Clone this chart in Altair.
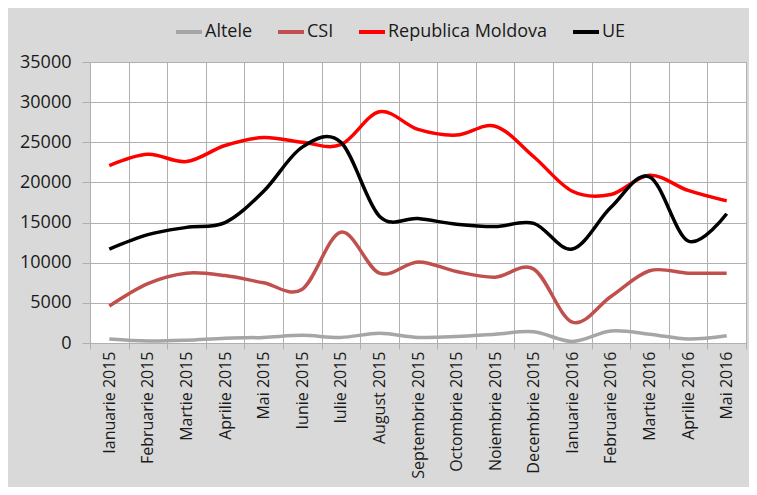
import altair as alt
import pandas as pd

months = ["Ianuarie 2015", "Februarie 2015", "Martie 2015", "Aprilie 2015", "Mai 2015",
          "Iunie 2015", "Iulie 2015", "August 2015", "Septembrie 2015", "Octombrie 2015",
          "Noiembrie 2015", "Decembrie 2015", "Ianuarie 2016", "Februarie 2016",
          "Martie 2016", "Aprilie 2016", "Mai 2016"]
series_names = ["Altele", "CSI", "Republica Moldova", "UE"]
altele = [500, 250, 350, 600, 700, 950, 700, 1200, 700, 800, 1100, 1400, 200, 1500, 1100, 500, 900]
csi = [4600, 7400, 8700, 8400, 7500, 6700, 13800, 8700, 10100, 8900, 8200, 9200, 2600, 5800, 9000, 8700, 8700]
rm = [22100, 23500, 22600, 24600, 25600, 25000, 24700, 28800, 26600, 25900, 27000, 23200, 18900, 18500, 20900, 19000, 17700]
ue = [11700, 13500, 14400, 15000, 18900, 24400, 25000, 15800, 15500, 14800, 14500, 14900, 11700, 16900, 20700, 12700, 16100]
colors = ["#A6A6A6", "#C0504D", "#FF0000", "#000000"]
y_ticks = [0, 5000, 10000, 15000, 20000, 25000, 30000, 35000]

rows = []
for name, vals in zip(series_names, [altele, csi, rm, ue]):
    for i, v in enumerate(vals):
        rows.append({"idx": i, "luna": months[i], "serie": name, "valoare": v})
df = pd.DataFrame(rows)

label_array = "[" + ",".join("'" + m + "'" for m in months) + "]"
idx_values = list(range(len(months)))
boundaries = [i - 0.5 for i in range(len(months) + 1)]

FONT = "Open Sans"
TXT = "#1a1a1a"
GRID = "#B0B0B0"

xscale = alt.Scale(domain=[-0.5, len(months) - 0.5], nice=False, zero=False)

lines = alt.Chart(df).mark_line(interpolate="cardinal", strokeWidth=3.5).encode(
    x=alt.X("idx:Q", scale=xscale,
            axis=alt.Axis(orient="bottom", values=idx_values,
                          labelExpr=label_array + "[datum.value]",
                          labelAngle=270, labelAlign="right", labelBaseline="middle",
                          labelPadding=8, labelFontSize=16, labelFont=FONT, labelColor=TXT,
                          ticks=False, grid=False, domain=False, title=None,
                          labelOverlap=False)),
    y=alt.Y("valoare:Q", scale=alt.Scale(domain=[0, 35000], nice=False),
            axis=alt.Axis(values=y_ticks, format="d", title=None, labelFontSize=18,
                          labelFont=FONT, labelColor=TXT, tickSize=8, tickColor=GRID,
                          gridColor=GRID, domainColor=GRID, labelPadding=11)),
    color=alt.Color("serie:N", scale=alt.Scale(domain=series_names, range=colors),
                    legend=alt.Legend(orient="none", legendX=84, legendY=-45,
                                      direction="horizontal", title=None,
                                      symbolType="stroke", symbolSize=676,
                                      symbolStrokeWidth=4, labelFontSize=18,
                                      labelFont=FONT, labelColor=TXT, labelOffset=1,
                                      columnPadding=17)),
)

bdf = pd.DataFrame({"b": boundaries})
grid_layer = alt.Chart(bdf).mark_point(opacity=0).encode(
    x=alt.X("b:Q", scale=xscale,
            axis=alt.Axis(orient="bottom", values=boundaries, labels=False, ticks=True,
                          tickSize=6, tickColor=GRID, grid=True, gridColor=GRID,
                          domain=True, domainColor=GRID, title=None)),
)

chart = alt.layer(grid_layer, lines).resolve_axis(x="independent").properties(
    width=656, height=281,
    autosize=alt.AutoSizeParams(type="none"),
    padding={"left": 82, "top": 54, "right": 3, "bottom": 144},
    background="#D9D9D9",
).configure_view(fill="white", stroke=GRID)

chart.save("out.html", embed_options={"renderer": "svg", "actions": False})
